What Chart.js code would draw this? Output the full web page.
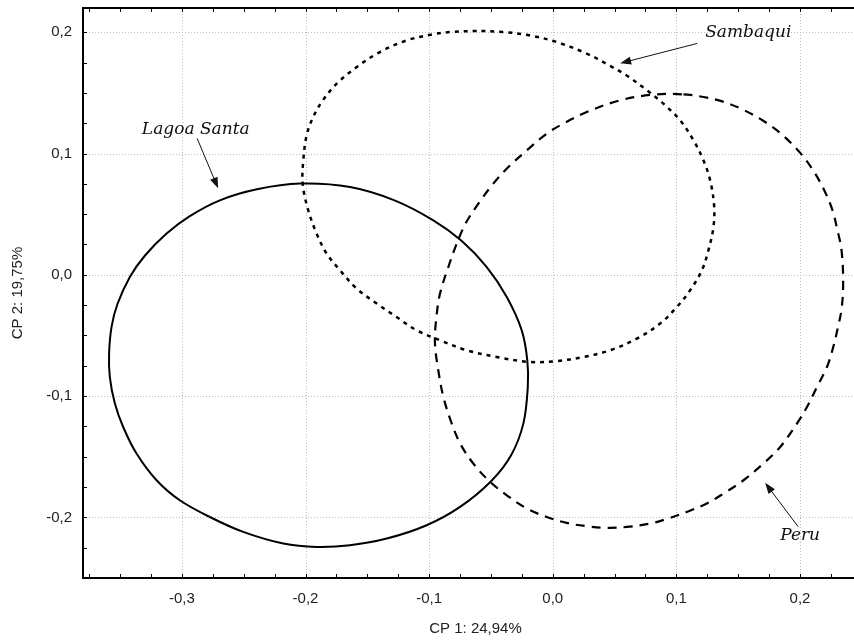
<!DOCTYPE html>
<html>
<head>
<meta charset="utf-8">
<title>CP 1 x CP 2</title>
<script src="https://cdn.jsdelivr.net/npm/chart.js@4/dist/chart.umd.min.js"></script>
<style>
  html, body { margin: 0; padding: 0; background: #fff; overflow: hidden; }
  #wrap { width: 854px; height: 641px; overflow: hidden; }
</style>
</head>
<body>
<div id="wrap"><canvas id="pcaChart" width="880" height="641"></canvas></div>
<script>
// pontos das elipses (CP 1, CP 2)
const lagoaSanta = [
  [-0.2045, 0.0752], [-0.1640, 0.0724], [-0.1280, 0.0614], [-0.0966, 0.0449],
  [-0.0738, 0.0280], [-0.0534, 0.0064], [-0.0372, -0.0183], [-0.0251, -0.0458],
  [-0.0206, -0.0705], [-0.0202, -0.0925], [-0.0238, -0.1227], [-0.0337, -0.1488],
  [-0.0499, -0.1702], [-0.0750, -0.1914], [-0.1020, -0.2065], [-0.1343, -0.2175],
  [-0.1640, -0.2230], [-0.1910, -0.2244], [-0.2180, -0.2216], [-0.2504, -0.2120],
  [-0.2774, -0.1997], [-0.3017, -0.1859], [-0.3205, -0.1694], [-0.3367, -0.1474],
  [-0.3475, -0.1255], [-0.3542, -0.1062], [-0.3583, -0.0843], [-0.3589, -0.0650],
  [-0.3569, -0.0430], [-0.3522, -0.0243], [-0.3421, -0.0018], [-0.3300, 0.0157],
  [-0.3124, 0.0340], [-0.2939, 0.0482], [-0.2693, 0.0614], [-0.2393, 0.0705]
];

const sambaqui = [
  [-0.0615, 0.2010], [-0.0831, 0.2002], [-0.0969, 0.1983], [-0.1182, 0.1933],
  [-0.1398, 0.1837], [-0.1586, 0.1713], [-0.1748, 0.1576], [-0.1867, 0.1428],
  [-0.1938, 0.1301], [-0.1991, 0.1150], [-0.2018, 0.0944], [-0.2023, 0.0752],
  [-0.1978, 0.0532], [-0.1910, 0.0340], [-0.1829, 0.0175], [-0.1721, 0.0037],
  [-0.1586, -0.0114], [-0.1424, -0.0237], [-0.1263, -0.0348], [-0.1101, -0.0458],
  [-0.0912, -0.0540], [-0.0696, -0.0622], [-0.0453, -0.0678], [-0.0184, -0.0719],
  [0.0032, -0.0711], [0.0248, -0.0678], [0.0464, -0.0622], [0.0680, -0.0526],
  [0.0868, -0.0402], [0.1004, -0.0265], [0.1111, -0.0128], [0.1206, 0.0037],
  [0.1259, 0.0202], [0.1300, 0.0394], [0.1305, 0.0573], [0.1273, 0.0779],
  [0.1219, 0.0944], [0.1138, 0.1109], [0.1030, 0.1274], [0.0895, 0.1411],
  [0.0747, 0.1533], [0.0601, 0.1641], [0.0464, 0.1723], [0.0275, 0.1824],
  [0.0032, 0.1919], [-0.0184, 0.1974], [-0.0400, 0.2002]
];

const peru = [
  [0.1057, 0.1488], [0.1219, 0.1466], [0.1358, 0.1434], [0.1524, 0.1369],
  [0.1696, 0.1274], [0.1845, 0.1164], [0.2007, 0.0999], [0.2115, 0.0847],
  [0.2196, 0.0697], [0.2263, 0.0532], [0.2303, 0.0367], [0.2336, 0.0202],
  [0.2349, -0.0062], [0.2337, -0.0276], [0.2305, -0.0441], [0.2269, -0.0595],
  [0.2218, -0.0760], [0.2137, -0.0925], [0.2056, -0.1090], [0.1975, -0.1227],
  [0.1840, -0.1420], [0.1704, -0.1556], [0.1543, -0.1694], [0.1381, -0.1804],
  [0.1246, -0.1886], [0.1084, -0.1955], [0.0925, -0.2012], [0.0787, -0.2051],
  [0.0599, -0.2079], [0.0437, -0.2086], [0.0275, -0.2073], [0.0113, -0.2046],
  [-0.0049, -0.1997], [-0.0210, -0.1927], [-0.0372, -0.1818], [-0.0521, -0.1694],
  [-0.0643, -0.1556], [-0.0746, -0.1397], [-0.0817, -0.1227], [-0.0885, -0.1007],
  [-0.0926, -0.0787], [-0.0953, -0.0567], [-0.0944, -0.0375], [-0.0912, -0.0155],
  [-0.0845, 0.0064], [-0.0777, 0.0257], [-0.0702, 0.0429], [-0.0602, 0.0587],
  [-0.0481, 0.0752], [-0.0359, 0.0889], [-0.0210, 0.1026], [-0.0049, 0.1164],
  [0.0086, 0.1247], [0.0275, 0.1342], [0.0545, 0.1439], [0.0814, 0.1486]
];

const xTickValues = [-0.3, -0.2, -0.1, 0.0, 0.1, 0.2];
const yTickValues = [-0.2, -0.1, 0.0, 0.1, 0.2];
const xTitle = 'CP 1: 24,94%';
const yTitle = 'CP 2: 19,75%';

// rótulos com seta: texto em (tx, ty), seta de (ax1, ay1) até (ax2, ay2)
const labels = [
  { text: 'Lagoa Santa', tx: -0.3324, ty: 0.1164, ax1: -0.2877, ay1: 0.1125, ax2: -0.2707, ay2: 0.0713 },
  { text: 'Sambaqui', tx: 0.1233, ty: 0.1958, ax1: 0.1169, ay1: 0.1908, ax2: 0.0545, ay2: 0.1744 },
  { text: 'Peru', tx: 0.1840, ty: -0.2189, ax1: 0.1985, ay1: -0.2077, ax2: 0.1718, ay2: -0.1715 }
];

// curva fechada: repete vizinhos nas pontas para a spline ficar lisa na junção,
// os dois segmentos extras ficam invisíveis
function closed(pts) {
  const n = pts.length;
  const seq = [pts[n - 1]].concat(pts, [pts[0], pts[1]]);
  return seq.map(p => ({ x: p[0], y: p[1] }));
}

function fmt(v) {
  return v.toFixed(1).replace('.', ',');
}

function drawArrow(ctx, x1, y1, x2, y2) {
  const ang = Math.atan2(y2 - y1, x2 - x1);
  const len = 11, half = 4;
  ctx.beginPath();
  ctx.moveTo(x1, y1);
  ctx.lineTo(x2 - Math.cos(ang) * len * 0.8, y2 - Math.sin(ang) * len * 0.8);
  ctx.lineWidth = 1;
  ctx.strokeStyle = '#111';
  ctx.stroke();
  ctx.beginPath();
  ctx.moveTo(x2, y2);
  ctx.lineTo(x2 - Math.cos(ang) * len - Math.sin(ang) * half, y2 - Math.sin(ang) * len + Math.cos(ang) * half);
  ctx.lineTo(x2 - Math.cos(ang) * len + Math.sin(ang) * half, y2 - Math.sin(ang) * len - Math.cos(ang) * half);
  ctx.closePath();
  ctx.fillStyle = '#111';
  ctx.fill();
}

const framePlugin = {
  id: 'framePlugin',
  beforeDatasetsDraw(chart) {
    const { ctx, chartArea: a, scales: { x, y } } = chart;
    ctx.save();
    ctx.strokeStyle = '#bdbdbd';
    ctx.lineWidth = 1;
    ctx.setLineDash([1, 2]);
    xTickValues.forEach(v => {
      const px = Math.round(x.getPixelForValue(v)) + 0.5;
      ctx.beginPath(); ctx.moveTo(px, a.top); ctx.lineTo(px, a.bottom); ctx.stroke();
    });
    yTickValues.forEach(v => {
      const py = Math.round(y.getPixelForValue(v)) + 0.5;
      ctx.beginPath(); ctx.moveTo(a.left, py); ctx.lineTo(a.right, py); ctx.stroke();
    });
    ctx.restore();
  },
  afterDatasetsDraw(chart) {
    const { ctx, chartArea: a, scales: { x, y } } = chart;
    ctx.save();
    // moldura
    ctx.strokeStyle = '#000';
    ctx.lineWidth = 2;
    ctx.strokeRect(a.left, a.top, a.right - a.left, a.bottom - a.top);
    // marcas internas a cada 0,025
    ctx.lineWidth = 1;
    const step = 0.025, tl = 4;
    for (let k = Math.ceil(x.min / step); k <= Math.floor(x.max / step); k++) {
      const px = Math.round(x.getPixelForValue(k * step)) + 0.5;
      ctx.beginPath();
      ctx.moveTo(px, a.bottom); ctx.lineTo(px, a.bottom - tl);
      ctx.moveTo(px, a.top); ctx.lineTo(px, a.top + tl);
      ctx.stroke();
    }
    for (let k = Math.ceil(y.min / step); k <= Math.floor(y.max / step); k++) {
      const py = Math.round(y.getPixelForValue(k * step)) + 0.5;
      ctx.beginPath();
      ctx.moveTo(a.left, py); ctx.lineTo(a.left + tl, py);
      ctx.moveTo(a.right, py); ctx.lineTo(a.right - tl, py);
      ctx.stroke();
    }
    // rótulos e setas
    ctx.font = 'italic 17px "DejaVu Serif"';
    ctx.fillStyle = '#111';
    ctx.textAlign = 'left';
    ctx.textBaseline = 'alphabetic';
    labels.forEach(l => {
      ctx.fillText(l.text, x.getPixelForValue(l.tx), y.getPixelForValue(l.ty));
      drawArrow(ctx, x.getPixelForValue(l.ax1), y.getPixelForValue(l.ay1),
                x.getPixelForValue(l.ax2), y.getPixelForValue(l.ay2));
    });
    ctx.restore();
  }
};

function ellipseDataset(label, pts, dash, width) {
  const data = closed(pts);
  const last = data.length - 2;
  return {
    label: label,
    data: data,
    showLine: true,
    fill: false,
    borderColor: '#000',
    borderWidth: width,
    borderDash: dash,
    pointRadius: 0,
    pointHoverRadius: 0,
    tension: 0.35,
    segment: {
      borderColor: c => (c.p0DataIndex === 0 || c.p0DataIndex === last) ? 'rgba(0,0,0,0)' : undefined
    }
  };
}

Chart.defaults.font.family = '"Liberation Sans", Arial, sans-serif';
Chart.defaults.color = '#222';

const ctx = document.getElementById('pcaChart').getContext('2d');
new Chart(ctx, {
  type: 'scatter',
  data: {
    datasets: [
      ellipseDataset('Lagoa Santa', lagoaSanta, [], 2),
      ellipseDataset('Sambaqui', sambaqui, [4, 5], 2.5),
      ellipseDataset('Peru', peru, [9, 7], 2.2)
    ]
  },
  options: {
    responsive: false,
    animation: false,
    events: [],
    layout: { autoPadding: false, padding: { top: 8, right: 12, left: 0, bottom: 0 } },
    plugins: { legend: { display: false }, tooltip: { enabled: false } },
    scales: {
      x: {
        type: 'linear',
        min: -0.38,
        max: 0.255,
        afterBuildTicks: s => { s.ticks = xTickValues.map(v => ({ value: v })); },
        afterFit: s => { s.height = 63; s.paddingLeft = 0; s.paddingRight = 0; },
        grid: { display: false, drawTicks: false },
        border: { display: false },
        ticks: { callback: v => fmt(v), font: { size: 15 }, padding: 12, maxRotation: 0 },
        title: { display: true, text: xTitle, font: { size: 15 }, padding: { top: 0, bottom: 3 } }
      },
      y: {
        type: 'linear',
        min: -0.25,
        max: 0.22,
        afterBuildTicks: s => { s.ticks = yTickValues.map(v => ({ value: v })); },
        afterFit: s => { s.width = 83; s.paddingTop = 0; s.paddingBottom = 0; },
        grid: { display: false, drawTicks: false },
        border: { display: false },
        ticks: { callback: v => fmt(v), font: { size: 15 }, padding: 11 },
        title: { display: true, text: yTitle, font: { size: 15 }, padding: { top: 9, bottom: 0 } }
      }
    }
  },
  plugins: [framePlugin]
});
</script>
</body>
</html>
